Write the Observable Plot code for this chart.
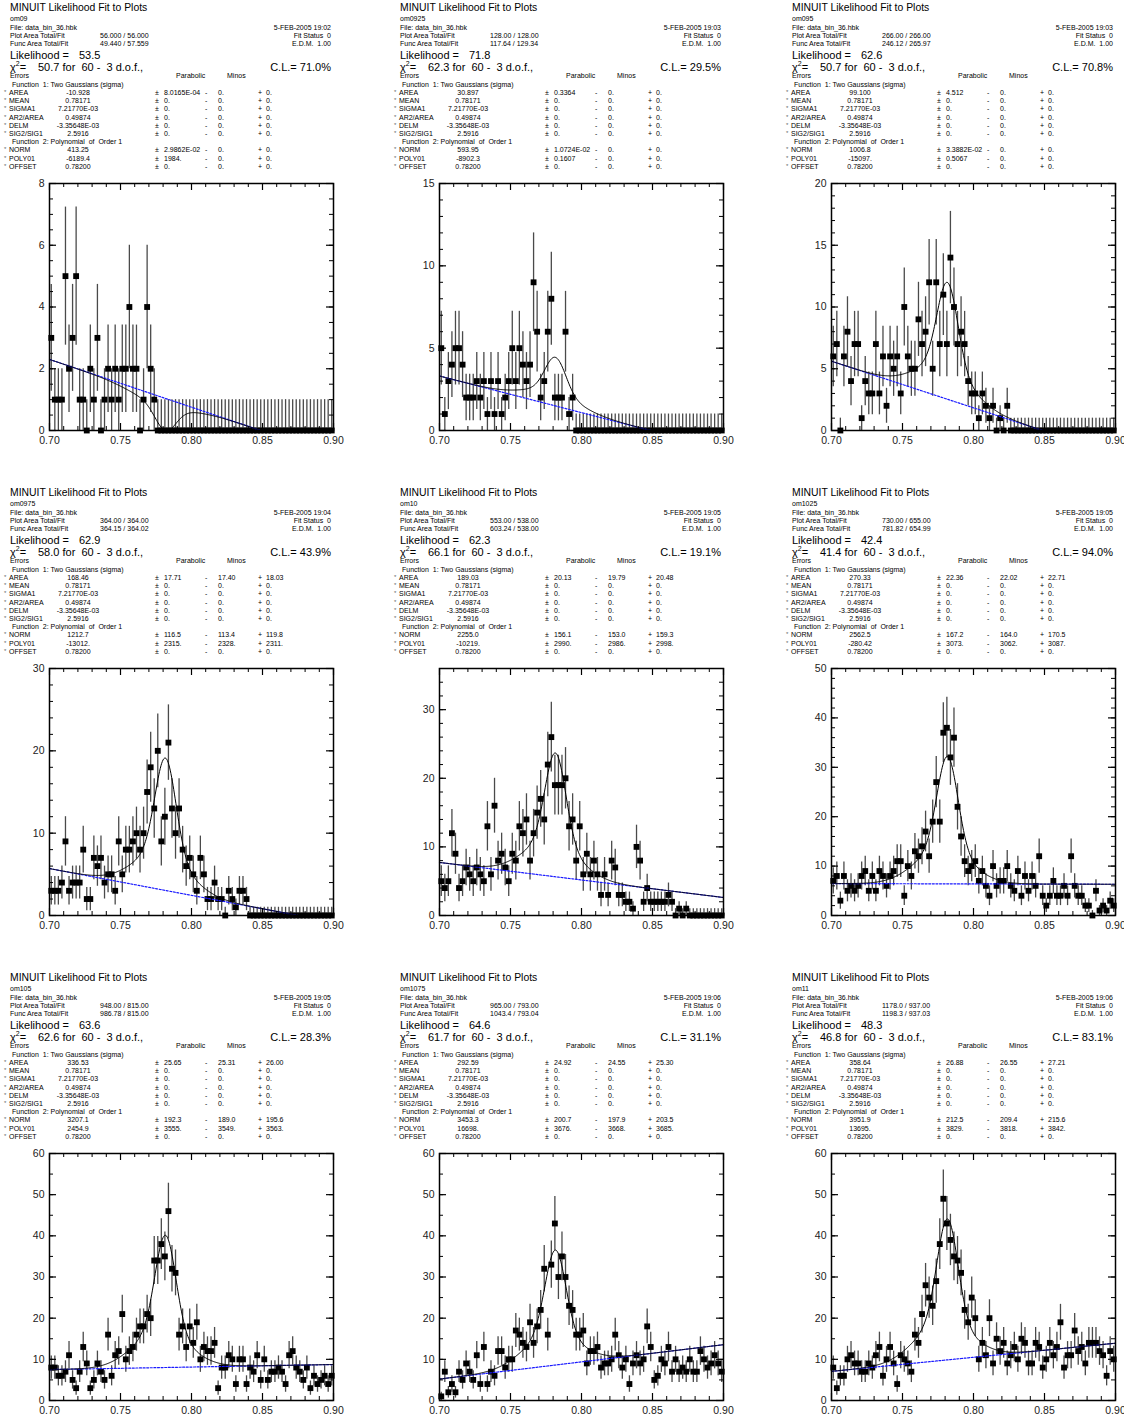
<!DOCTYPE html>
<html><head><meta charset="utf-8">
<script src="https://cdn.jsdelivr.net/npm/d3@7"></script>
<script src="https://cdn.jsdelivr.net/npm/@observablehq/plot@0.6"></script>
<style>
body{margin:0;background:#fff;font-family:"Liberation Sans",Arial,sans-serif;}
#root{position:relative;width:1124px;height:1420px;overflow:hidden;background:#fff;}
.t{position:absolute;white-space:pre;color:#000;line-height:1;}
</style></head><body><div id="root"></div>
<script>
// ---------- header texts ----------
const histNames = ["om09","om0925","om095","om0975","om10","om1025","om105","om1075","om11"];
const fitTimes = ["19:02","19:03","19:03","19:04","19:05","19:05","19:05","19:06","19:06"];
const plotAreaText = ["56.000 / 56.000","128.00 / 128.00","266.00 / 266.00","364.00 / 364.00","553.00 / 538.00","730.00 / 655.00","948.00 / 815.00","965.00 / 793.00","1178.0 / 937.00"];
const funcAreaText = ["49.440 / 57.559","117.64 / 129.34","246.12 / 265.97","364.15 / 364.02","603.24 / 538.00","781.82 / 654.99","986.78 / 815.00","1043.4 / 793.04","1198.3 / 937.03"];
const likelihoodText = ["53.5","71.8","62.6","62.9","62.3","42.4","63.6","64.6","48.3"];
const chi2Text = ["50.7","62.3","50.7","58.0","66.1","41.4","62.6","61.7","46.8"];
const clText = ["71.0%","29.5%","70.8%","43.9%","19.1%","94.0%","28.3%","31.1%","83.1%"];

// fitted parameters (value, parabolic, minos -, minos +)
const areaValue = [-10.928, 30.897, 99.100, 168.46, 189.03, 270.33, 336.53, 292.59, 358.64];
const areaText = ["-10.928","30.897","99.100","168.46","189.03","270.33","336.53","292.59","358.64"];
const areaErrText = [["8.0165E-04","0.","0."],["0.3364","0.","0."],["4.512","0.","0."],["17.71","17.40","18.03"],["20.13","19.79","20.48"],["22.36","22.02","22.71"],["25.65","25.31","26.00"],["24.92","24.55","25.30"],["26.88","26.55","27.21"]];
const normValue = [413.25, 593.95, 1006.8, 1212.7, 2255.0, 2562.5, 3207.1, 3453.3, 3951.9];
const normText = ["413.25","593.95","1006.8","1212.7","2255.0","2562.5","3207.1","3453.3","3951.9"];
const normErrText = [["2.9862E-02","0.","0."],["1.0724E-02","0.","0."],["3.3882E-02","0.","0."],["116.5","113.4","119.8"],["156.1","153.0","159.3"],["167.2","164.0","170.5"],["192.3","189.0","195.6"],["200.7","197.9","203.5"],["212.5","209.4","215.6"]];
const poly01Value = [-6189.4, -8902.3, -15097, -13012, -10219, -280.42, 2454.9, 16698, 13695];
const poly01Text = ["-6189.4","-8902.3","-15097.","-13012.","-10219.","-280.42","2454.9","16698.","13695."];
const poly01ErrText = [["1984.","0.","0."],["0.1607","0.","0."],["0.5067","0.","0."],["2315.","2328.","2311."],["2990.","2986.","2998."],["3073.","3062.","3087."],["3555.","3549.","3563."],["3676.","3668.","3685."],["3829.","3818.","3842."]];
const fixedNames = ["MEAN","SIGMA1","AR2/AREA","DELM","SIG2/SIG1"];
const fixedText = ["0.78171","7.21770E-03","0.49874","-3.35648E-03","2.5916"];
const MEAN = 0.78171, SIGMA1 = 7.21770e-3, AR2 = 0.49874, DELM = -3.35648e-3, SIG2SIG1 = 2.5916, OFFSET = 0.78200;
const BIN_WIDTH = 0.0025;

// ---------- histogram contents (80 bins, 0.70 - 0.90) ----------
const binCenters = d3.range(80).map(i => 0.70125 + i * BIN_WIDTH);
const counts_om09 = [3,1,1,1,5,2,3,5,1,1, 0,2,1,3,0,1,2,1,2,1, 2,2,4,2,2,0,1,4,2,1, 0,0,0,0,0,0,0,0,0,0, 0,0,0,0,0,0,0,0,0,0, 0,0,0,0,0,0,0,0,0,0, 0,0,0,0,0,0,0,0,0,0, 0,0,0,0,0,0,0,0,0,0];
const counts_om0925 = [5,1,3,4,5,5,4,2,2,2, 3,2,3,1,3,1,3,1,2,3, 5,3,5,4,3,4,9,6,2,3, 6,8,2,2,2,6,1,2,0,0, 0,0,0,0,0,0,0,0,0,0, 0,0,0,0,0,0,0,0,0,0, 0,0,0,0,0,0,0,0,0,0, 0,0,0,0,0,0,0,0,0,0];
const counts_om095 = [6,7,0,6,8,4,7,7,1,4, 3,3,7,3,6,2,6,5,6,3, 10,6,5,5,9,7,8,12,5,12, 7,11,7,14,10,7,8,7,4,3, 3,1,3,2,1,2,0,1,0,2, 0,0,0,0,0,0,0,0,0,0, 0,0,0,0,0,0,0,0,0,0, 0,0,0,0,0,0,0,0,0,0];
const counts_om0975 = [3,3,3,4,9,3,4,4,4,8, 2,2,7,6,7,4,5,5,3,9, 5,8,8,9,10,8,10,15,18,13, 20,9,12,21,13,10,13,8,6,7, 5,3,7,5,2,2,4,2,2,0, 3,2,1,3,3,2,0,0,0,0, 0,0,0,0,0,0,0,0,0,0, 0,0,0,0,0,0,0,0,0,0];
const counts_om10 = [5,4,5,12,9,4,5,7,6,5, 7,6,5,13,6,16,8,9,7,5, 9,8,13,12,14,8,12,15,17,14, 22,26,19,19,19,20,13,14,8,13, 6,9,6,8,6,3,6,3,8,7, 3,3,2,2,1,10,8,2,4,2, 2,2,2,2,3,2,0,1,0,1, 0,0,0,0,0,0,0,0,0,0];
const counts_om1025 = [7,8,3,8,5,6,5,6,8,9, 5,8,5,9,8,6,8,9,11,11, 4,10,8,13,12,14,17,12,19,27, 19,37,38,32,36,22,16,11,9,10, 11,7,9,6,4,10,6,7,7,10, 6,5,9,4,8,5,8,6,12,4, 2,4,7,4,4,6,4,12,6,4, 4,2,2,0,5,1,2,1,3,2];
const counts_om105 = [8,8,6,6,7,11,5,3,7,13, 9,3,5,9,7,5,16,6,11,12, 21,10,12,13,16,18,18,21,20,34, 34,38,35,46,32,31,16,18,13,18, 14,19,10,13,12,12,14,3,8,8, 11,10,4,10,10,4,8,7,11,5, 10,5,7,7,8,7,4,11,12,8, 7,5,8,3,6,4,5,6,4,6];
const counts_om1075 = [1,7,2,4,2,7,5,9,7,5, 11,4,13,4,7,6,12,12,8,10, 10,17,16,14,13,19,14,18,22,32, 16,33,43,30,35,30,23,22,16,16, 17,9,12,12,13,8,9,9,10,16, 11,8,10,4,9,11,9,10,18,13, 5,6,10,9,13,7,10,7,8,7, 10,7,7,12,10,8,9,11,9,7];
const counts_om11 = [8,3,6,6,10,11,9,9,7,7, 9,8,11,13,6,10,13,9,4,11, 10,9,7,16,14,21,28,25,23,29, 38,49,43,39,35,34,31,22,19,25, 20,10,14,11,20,9,15,12,14,9, 11,13,10,15,14,9,9,14,13,8, 10,14,11,13,19,8,11,11,17,12, 13,9,14,14,14,12,11,6,12,10];
const allCounts = [counts_om09,counts_om0925,counts_om095,counts_om0975,counts_om10,counts_om1025,counts_om105,counts_om1075,counts_om11];

// ---------- axes ----------
const xTickLabels = [0.70, 0.75, 0.80, 0.85, 0.90];
const xMinorTicks = [0.70,0.71,0.72,0.73,0.74,0.75,0.76,0.77,0.78,0.79,0.80,0.81,0.82,0.83,0.84,0.85,0.86,0.87,0.88,0.89,0.90];
const yMaxes = [8, 15, 20, 30, 36, 50, 60, 60, 60];
const yMajorSteps = [2, 5, 5, 10, 10, 10, 10, 10, 10];
const yMinorSteps = [0.5, 1, 1, 2, 2, 2, 5, 5, 5];

// ---------- layout ----------
const W = 284, H = 247;
const FLs = [49, 439, 831];
const Ts = [8, 493, 978];
const ml = 32, mr = 12, mt = 8, mb = 24;
const root = document.getElementById("root");

function add(x, cy, content, fs, anchor = "start", opts = {}) {
  const d = document.createElement("div");
  d.className = "t";
  d.style.left = x + "px";
  d.style.top = cy + "px";
  d.style.fontSize = fs + "px";
  d.style.transform = anchor === "end" ? "translate(-100%,-50%)" : anchor === "middle" ? "translate(-50%,-50%)" : "translate(0,-50%)";
  if (opts.html) d.innerHTML = content; else d.textContent = content;
  if (opts.color) d.style.color = opts.color;
  root.appendChild(d);
}

function fitFunction(x, k) {
  const s1 = SIGMA1, s2 = SIGMA1 * SIG2SIG1, m2 = MEAN + DELM;
  const g1 = Math.exp(-0.5 * ((x - MEAN) / s1) ** 2) / (s1 * Math.sqrt(2 * Math.PI));
  const g2 = Math.exp(-0.5 * ((x - m2) / s2) ** 2) / (s2 * Math.sqrt(2 * Math.PI));
  const sig = areaValue[k] * ((1 - AR2) * g1 + AR2 * g2);
  const bg = normValue[k] + poly01Value[k] * (x - OFFSET);
  return { total: Math.max(0, (sig + bg) * BIN_WIDTH), bg: Math.max(0, bg * BIN_WIDTH) };
}

function header(k) {
  const col = k % 3, row = Math.floor(k / 3);
  const FL = FLs[col], FR = FL + W, T = Ts[row];
  const L = FL - 39;
  add(L, T, "MINUIT Likelihood Fit to Plots", 10.4);
  add(L, T + 10, histNames[k], 7);
  add(L, T + 19, "File: data_bin_36.hbk", 7);
  add(FR - 2, T + 19, "5-FEB-2005 " + fitTimes[k], 7, "end");
  add(L, T + 27, "Plot Area Total/Fit", 7);
  add(FL + 51, T + 27, plotAreaText[k], 7);
  add(FR - 2, T + 27, "Fit Status  0", 7, "end");
  add(L, T + 34.5, "Func Area Total/Fit", 7);
  add(FL + 51, T + 34.5, funcAreaText[k], 7);
  add(FR - 2, T + 34.5, "E.D.M.  1.00", 7, "end");
  add(L, T + 47, "Likelihood =", 11);
  add(FL + 30, T + 47, likelihoodText[k], 11);
  add(L, T + 59, 'χ<span style="position:relative;top:-5px;font-size:7px">2</span>=', 11, "start", { html: true });
  add(FL - 11, T + 59, chi2Text[k] + " for  60 -  3 d.o.f.,", 11);
  add(FR - 2, T + 59, "C.L.= " + clText[k], 11, "end");
  add(L, T + 66.5, "Errors", 7);
  add(FL + 127, T + 66.5, "Parabolic", 7);
  add(FL + 178, T + 66.5, "Minos", 7);
  add(L + 2, T + 75.5, "Function  1: Two Gaussians (sigma)", 7);
  const rows = [["AREA", areaText[k], areaErrText[k]]];
  fixedNames.forEach((n, i) => rows.push([n, fixedText[i], ["0.", "0.", "0."]]));
  rows.push(null);
  rows.push(["NORM", normText[k], normErrText[k]]);
  rows.push(["POLY01", poly01Text[k], poly01ErrText[k]]);
  rows.push(["OFFSET", "0.78200", ["0.", "0.", "0."]]);
  rows.forEach((r, i) => {
    const cy = T + 84 + i * 8.2;
    if (!r) { add(L + 2, cy, "Function  2: Polynomial  of  Order 1", 7); return; }
    add(FL - 45, cy, "*", 6, "start", { color: "#666" });
    add(FL - 40, cy, r[0], 7);
    add(FL + 29, cy, r[1], 7, "middle");
    add(FL + 106, cy, "±", 7);
    add(FL + 115, cy, r[2][0], 7);
    add(FL + 156, cy, "-", 7);
    add(FL + 169, cy, r[2][1], 7);
    add(FL + 209, cy, "+", 7);
    add(FL + 217, cy, r[2][2], 7);
  });
}

function panel(k) {
  const col = k % 3, row = Math.floor(k / 3);
  const FL = FLs[col], FT = Ts[row] + 175;
  const counts = allCounts[k];
  const data = binCenters.map((x, i) => {
    const n = counts[i];
    return { x, n, lo: n > 0 ? n - Math.sqrt(n) : 0, hi: n > 0 ? n + Math.sqrt(n) : 1 };
  });
  const xs = d3.range(0, 401).map(j => 0.70 + j * 0.0005);
  const curve = xs.map(x => ({ x, ...fitFunction(x, k) }));
  const ymax = yMaxes[k];
  const yMajor = d3.range(0, ymax + 1e-9, yMajorSteps[k]);
  const yMinor = d3.range(0, ymax + 1e-9, yMinorSteps[k]);
  const svg = Plot.plot({
    width: W + ml + mr, height: H + mt + mb,
    marginLeft: ml, marginRight: mr, marginTop: mt, marginBottom: mb,
    x: { domain: [0.70, 0.90] },
    y: { domain: [0, ymax] },
    style: { fontFamily: "Liberation Sans, Arial, sans-serif", fontSize: "10.5px", color: "#222", background: "transparent", overflow: "visible" },
    marks: [
      Plot.ruleX(data, { x: "x", y1: "lo", y2: "hi", stroke: "#4a4a4a", strokeWidth: 1.3 }),
      Plot.dot(data, { x: "x", y: "n", symbol: "square", r: 3.3, fill: "#000", stroke: null }),
      Plot.line(curve, { x: "x", y: "bg", stroke: "#1a1aff", strokeWidth: 1.2, strokeDasharray: "2,1.6" }),
      Plot.line(curve, { x: "x", y: "total", stroke: "#000", strokeWidth: 1 }),
      Plot.tickX(xMinorTicks, { x: d => d, insetTop: H - 4, stroke: "#000" }),
      Plot.tickX(xMinorTicks, { x: d => d, insetBottom: H - 4, stroke: "#000" }),
      Plot.tickX(xTickLabels, { x: d => d, insetTop: H - 7, stroke: "#000", strokeWidth: 1.2 }),
      Plot.tickX(xTickLabels, { x: d => d, insetBottom: H - 7, stroke: "#000", strokeWidth: 1.2 }),
      Plot.tickY(yMinor, { y: d => d, insetRight: W - 4, stroke: "#000" }),
      Plot.tickY(yMinor, { y: d => d, insetLeft: W - 4, stroke: "#000" }),
      Plot.tickY(yMajor, { y: d => d, insetRight: W - 7, stroke: "#000", strokeWidth: 1.2 }),
      Plot.tickY(yMajor, { y: d => d, insetLeft: W - 7, stroke: "#000", strokeWidth: 1.2 }),
      Plot.frame({ stroke: "#000", strokeWidth: 1.5 }),
      Plot.axisX({ ticks: xTickLabels, tickSize: 0, tickPadding: 6, tickFormat: d3.format(".2f"), label: null }),
      Plot.axisY({ ticks: yMajor, tickSize: 0, tickPadding: 5, tickFormat: d => String(d), label: null })
    ]
  });
  svg.style.position = "absolute";
  svg.style.left = (FL - ml) + "px";
  svg.style.top = (FT - mt) + "px";
  root.appendChild(svg);
}

for (let k = 0; k < 9; k++) { header(k); panel(k); }
</script></body></html>
